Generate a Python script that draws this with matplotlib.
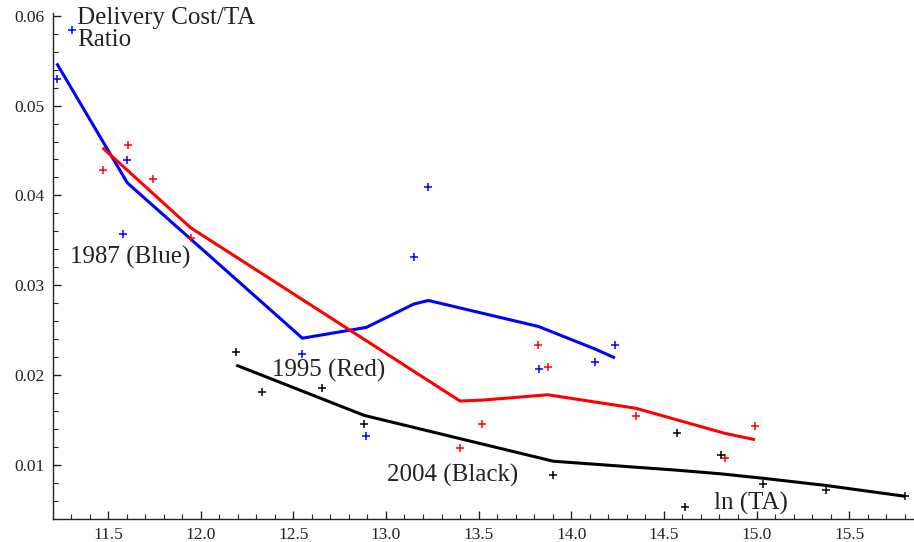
import matplotlib
matplotlib.use("Agg")
import matplotlib.pyplot as plt
from matplotlib.ticker import MultipleLocator, FormatStrFormatter

# 1987 (blue)
x_1987 = [11.223, 11.304, 11.583, 11.604, 12.549, 12.894, 13.150, 13.229, 13.824, 14.128, 14.236]
y_1987 = [0.0530, 0.0584, 0.0357, 0.0439, 0.0223, 0.0132, 0.0331, 0.0409, 0.0207, 0.0214, 0.0233]
fit_x_1987 = [11.223, 11.604, 12.549, 12.894, 13.150, 13.229, 13.824, 14.128, 14.236]
fit_y_1987 = [0.0547, 0.0414, 0.0241, 0.0253, 0.0279, 0.0283, 0.0254, 0.0229, 0.0219]

# 1995 (red)
x_1995 = [11.471, 11.610, 11.744, 11.946, 13.400, 13.518, 13.819, 13.873, 14.348, 14.830, 14.992]
y_1995 = [0.0428, 0.0456, 0.0418, 0.0353, 0.0119, 0.0146, 0.0233, 0.0209, 0.0154, 0.0108, 0.0143]
fit_x_1995 = [11.471, 11.946, 13.400, 13.518, 13.873, 14.348, 14.830, 14.992]
fit_y_1995 = [0.0453, 0.0364, 0.0171, 0.0172, 0.0178, 0.0163, 0.0135, 0.0128]

# 2004 (black)
x_2004 = [12.192, 12.329, 12.653, 12.883, 13.903, 14.572, 14.614, 14.806, 15.036, 15.375, 15.801]
y_2004 = [0.0226, 0.0181, 0.0186, 0.0145, 0.0089, 0.0135, 0.0053, 0.0111, 0.0079, 0.0072, 0.0065]
fit_x_2004 = [12.192, 12.883, 13.903, 14.572, 14.806, 15.036, 15.375, 15.801]
fit_y_2004 = [0.0211, 0.0155, 0.0104, 0.0094, 0.0090, 0.0085, 0.0077, 0.0065]

plt.rcParams['font.family'] = ['Liberation Serif', 'DejaVu Serif']

fig = plt.figure(figsize=(9.14, 5.42), dpi=100)
ax = fig.add_axes([53 / 914, 23.3 / 542, 861 / 914, 505.6 / 542])

series = [
    (x_1987, y_1987, fit_x_1987, fit_y_1987, '#0000ff'),
    (x_1995, y_1995, fit_x_1995, fit_y_1995, '#ff0000'),
    (x_2004, y_2004, fit_x_2004, fit_y_2004, '#000000'),
]
for xs, ys, fx, fy, c in series:
    ax.plot(fx, fy, color=c, lw=2.2, solid_capstyle='butt', zorder=2)
    ax.plot(xs, ys, linestyle='none', marker='+', color=c, ms=6, mew=1.1, zorder=3)

ax.set_xlim(11.203, 15.85)
ax.set_ylim(0.004, 0.0603)

for s in ['top', 'right']:
    ax.spines[s].set_visible(False)
for s in ['left', 'bottom']:
    ax.spines[s].set_linewidth(1.0)
    ax.spines[s].set_color('#222222')

ax.xaxis.set_major_locator(MultipleLocator(0.5))
ax.xaxis.set_minor_locator(MultipleLocator(0.1))
ax.yaxis.set_major_locator(MultipleLocator(0.01))
ax.yaxis.set_minor_locator(MultipleLocator(0.002))
ax.xaxis.set_major_formatter(FormatStrFormatter('%.1f'))
ax.yaxis.set_major_formatter(FormatStrFormatter('%.2f'))
ax.tick_params(which='major', direction='in', length=6, width=1.0, color='#222222',
               labelsize=12.5, labelcolor='#222222', pad=6)
ax.tick_params(which='minor', direction='in', length=3.5, width=0.8, color='#222222')

txt = dict(fontsize=18, color='#222222', va='baseline', ha='left', clip_on=False)
ax.text(11.333, 0.0591, 'Delivery Cost/TA', **txt)
ax.text(11.333, 0.05663, 'Ratio', **txt)
ax.text(11.295, 0.03243, '1987 (Blue)', **txt)
ax.text(12.385, 0.0198, '1995 (Red)', **txt)
ax.text(13.006, 0.0081, '2004 (Black)', **txt)
ax.text(14.770, 0.00503, 'ln (TA)', **txt)

fig.savefig('out.png', dpi=100)
